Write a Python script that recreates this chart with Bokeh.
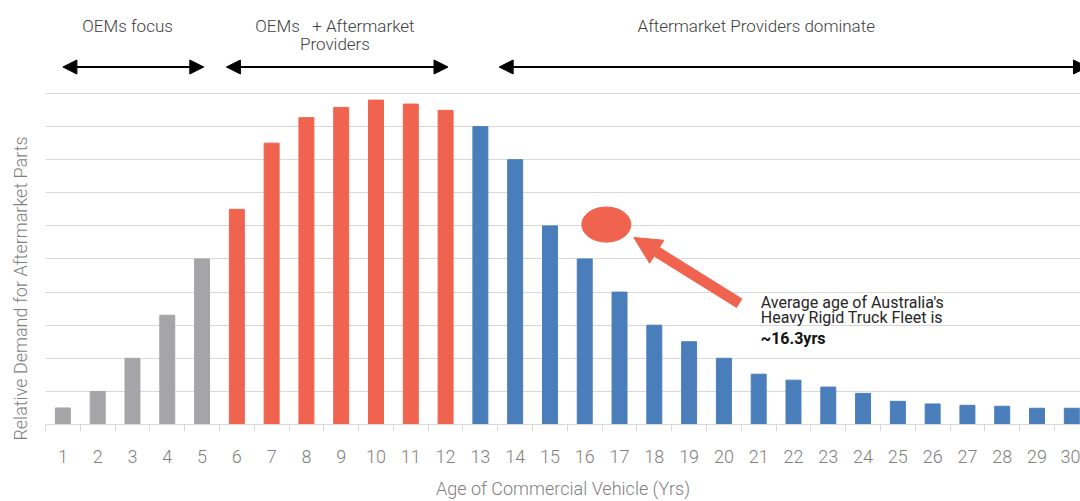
from bokeh.plotting import figure
from bokeh.models import (Range1d, FixedTicker, Arrow, NormalHead, Label,
                          ColumnDataSource)
from bokeh.layouts import column, row
from bokeh.embed import file_html
from bokeh.resources import INLINE

# ---------------- data ----------------
ages = [1, 2, 3, 4, 5, 6, 7, 8, 9, 10, 11, 12, 13, 14, 15,
        16, 17, 18, 19, 20, 21, 22, 23, 24, 25, 26, 27, 28, 29, 30]
demand = [5, 10, 20, 33, 50, 65, 85, 92.7, 95.8, 98, 96.8, 94.9, 90, 80, 60,
          50, 40, 30, 25, 20, 15.2, 13.4, 11.3, 9.4, 7.0, 6.2, 5.8, 5.5, 4.9, 4.9]
phase = (["OEMs focus"] * 5 + ["OEMs + Aftermarket"] * 7 +
         ["Aftermarket dominate"] * 18)
phase_colors = {"OEMs focus": "#A5A5A8",
                "OEMs + Aftermarket": "#F0634F",
                "Aftermarket dominate": "#4A7EBB"}
tick_labels = [str(a) for a in ages]
grid_values = [10, 20, 30, 40, 50, 60, 70, 80, 90, 100]

# phase annotations (text lines, text x-centre, arrow start/end in age units)
phase_text = [["OEMs focus"], ["OEMs\u00a0\u00a0\u00a0+ Aftermarket", "Providers"],
              ["Aftermarket Providers dominate"]]
phase_text_x = [2.86, 8.82, 20.93]
phase_arrow_start = [1.0, 5.70, 13.54]
phase_arrow_end = [5.05, 12.07, 30.45]

avg_age_lines = ["Average age of Australia's", "Heavy Rigid Truck Fleet is"]
avg_age_value = "~16.3yrs"

y_title = "Relative Demand for Aftermarket Parts"
x_title = "Age of Commercial Vehicle (Yrs)"

RED = "#F0634F"
LIGHT = "Roboto Light"
GREY_TXT = "#7f7f7f"

xr = Range1d(0.5, 30.25)
W = 1035

# ---------------- left strip with the y-axis title ----------------
left = figure(width=45, height=501, x_range=Range1d(0, 45), y_range=Range1d(0, 501),
              x_axis_type=None, y_axis_type=None,
              output_backend="svg", toolbar_location=None,
              min_border=0, outline_line_color=None)
left.grid.visible = False
left.add_layout(Label(x=19.5, y=213, text=y_title, angle=90, angle_units="deg",
                      text_align="center", text_baseline="middle",
                      text_font=LIGHT, text_font_size="18px", text_color=GREY_TXT))

# ---------------- top strip with phase arrows ----------------
top = figure(width=W, height=91, x_range=xr, y_range=Range1d(0, 91),
             x_axis_type=None, y_axis_type=None,
             output_backend="svg", toolbar_location=None,
             min_border=0, outline_line_color=None)
top.grid.visible = False

for lines, tx, xs, xe in zip(phase_text, phase_text_x, phase_arrow_start, phase_arrow_end):
    for i, t in enumerate(lines):
        top.add_layout(Label(x=tx, y=66 - 18.5 * i, text=t, text_align="center",
                             text_baseline="middle", text_font=LIGHT,
                             text_font_size="17px", text_color="#404040"))
    top.add_layout(Arrow(x_start=xs, y_start=24.5, x_end=xe, y_end=24.5,
                         line_width=2, line_color="black",
                         start=NormalHead(size=14, fill_color="black", line_color="black"),
                         end=NormalHead(size=14, fill_color="black", line_color="black")))

# ---------------- main bar chart ----------------
src = ColumnDataSource(dict(age=ages, demand=demand,
                            color=[phase_colors[ph] for ph in phase]))

p = figure(width=W, height=410, x_range=xr, y_range=Range1d(0, 100.6),
           output_backend="svg", toolbar_location=None,
           min_border_left=0, min_border_right=0, min_border_top=0,
           min_border_bottom=77, outline_line_color=None)

p.vbar(x="age", top="demand", width=0.43, color="color", source=src)

p.xgrid.visible = False
p.ygrid.ticker = FixedTicker(ticks=grid_values)
p.ygrid.grid_line_color = "#d9d9d9"
p.ygrid.grid_line_width = 1

p.yaxis.visible = False

xa = p.xaxis[0]
xa.ticker = FixedTicker(ticks=ages, minor_ticks=[a - 0.5 for a in ages] + [30.5])
xa.major_label_overrides = {a: l for a, l in zip(ages, tick_labels)}
xa.axis_line_color = "#d9d9d9"
xa.major_tick_line_color = None
xa.major_tick_out = 0
xa.major_tick_in = 0
xa.minor_tick_line_color = "#d9d9d9"
xa.minor_tick_out = 7
xa.minor_tick_in = 0
xa.major_label_text_font = LIGHT
xa.major_label_text_font_size = "18px"
xa.major_label_text_color = GREY_TXT
xa.major_label_standoff = 18
xa.axis_label = x_title
xa.axis_label_text_font = LIGHT
xa.axis_label_text_font_style = "normal"
xa.axis_label_text_font_size = "18px"
xa.axis_label_text_color = GREY_TXT
xa.axis_label_standoff = 12

# highlight marker and pointer arrow
p.ellipse(x=[16.62], y=[60.4], width=1.41, height=10.6, color=RED)
p.add_layout(Arrow(x_start=20.45, y_start=36.6, x_end=17.41, y_end=56.5,
                   line_width=11, line_color=RED,
                   start=None,
                   end=NormalHead(size=27, fill_color=RED, line_color=RED)))

for i, t in enumerate(avg_age_lines):
    p.add_layout(Label(x=21.06, y=37.0 - 4.8 * i, text=t, text_align="left",
                       text_baseline="middle", text_font="Roboto",
                       text_font_size="16px", text_color="#262626"))
p.add_layout(Label(x=21.06, y=26.0, text=avg_age_value, text_align="left",
                   text_baseline="middle", text_font="Roboto",
                   text_font_size="16px", text_font_style="bold",
                   text_color="#111111"))

layout = row(left, column(top, p, spacing=0), spacing=0)
open("out.html", "w").write(file_html(layout, INLINE))
